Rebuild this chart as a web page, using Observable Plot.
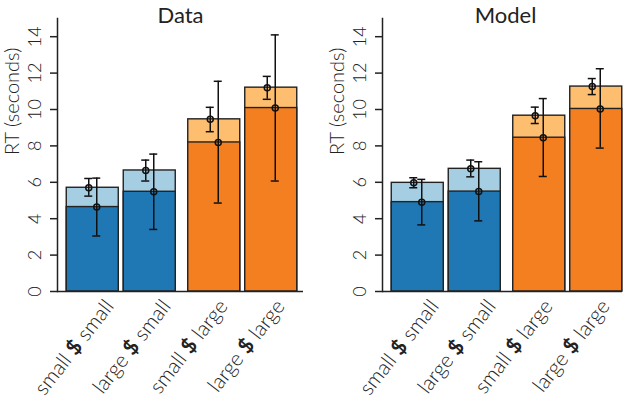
<!DOCTYPE html>
<html>
<head>
<meta charset="utf-8">
<script src="https://cdn.jsdelivr.net/npm/d3@7"></script>
<script src="https://cdn.jsdelivr.net/npm/@observablehq/plot@0.6"></script>
<style>
  body { margin: 0; background: white; }
  #wrap { display: flex; width: 631px; }
</style>
</head>
<body>
<div id="wrap"></div>
<script>
// ---- data ----
const panelTitles = ["Data", "Model"];
const yLabel = "RT (seconds)";
const conditions = ["small $ small", "large $ small", "small $ large", "large $ large"];
const secondOption = ["small", "small", "large", "large"];
const yTicks = [0, 2, 4, 6, 8, 10, 12, 14];

// Data panel
const dataDark    = [4.64, 5.48, 8.19, 10.08];
const dataDarkLo  = [3.05, 3.41, 4.86, 6.07];
const dataDarkHi  = [6.23, 7.55, 11.55, 14.10];
const dataLight   = [5.70, 6.65, 9.46, 11.20];
const dataLightLo = [5.24, 6.07, 8.78, 10.56];
const dataLightHi = [6.21, 7.22, 10.12, 11.82];

// Model panel
const modelDark    = [4.91, 5.49, 8.45, 10.03];
const modelDarkLo  = [3.66, 3.88, 6.32, 7.88];
const modelDarkHi  = [6.16, 7.13, 10.60, 12.24];
const modelLight   = [5.97, 6.74, 9.66, 11.26];
const modelLightLo = [5.70, 6.30, 9.23, 10.82];
const modelLightHi = [6.25, 7.22, 10.13, 11.70];

// ---- styles ----
const darkColor  = {small: "#1f77b4", large: "#f47f20"};
const lightColor = {small: "#a6cee3", large: "#fdbf6f"};
const groupShift = {small: -3.75, large: 3.75};
const FONT = "Lato, 'Open Sans', sans-serif";

function panel(title, dark, darkLo, darkHi, light, lightLo, lightHi, opt) {
  const rows = conditions.map((c, i) => ({
    cond: c, group: secondOption[i],
    dark: dark[i], darkLo: darkLo[i], darkHi: darkHi[i],
    light: light[i], lightLo: lightLo[i], lightHi: lightHi[i]
  }));
  const marks = [];
  for (const g of ["small", "large"]) {
    const r = rows.filter(d => d.group === g);
    const s = groupShift[g];
    const bar = {stroke: "#222", strokeWidth: 1.4, dx: s};
    marks.push(Plot.barY(r, {x: "cond", y: "light", fill: lightColor[g], ...bar}));
    marks.push(Plot.barY(r, {x: "cond", y: "dark", fill: darkColor[g], ...bar}));
    for (const [k, off] of [["light", -4], ["dark", 4]]) {
      const eb = {stroke: "#111", strokeWidth: 1.5, dx: s + off};
      marks.push(Plot.ruleX(r, {x: "cond", y1: k + "Lo", y2: k + "Hi", ...eb}));
      marks.push(Plot.tickY(r, {x: "cond", y: k + "Lo", insetLeft: 22, insetRight: 22, ...eb}));
      marks.push(Plot.tickY(r, {x: "cond", y: k + "Hi", insetLeft: 22, insetRight: 22, ...eb}));
      marks.push(Plot.dot(r, {x: "cond", y: k, r: 3, fill: "none", ...eb}));
    }
  }
  const svg = Plot.plot({
    width: opt.width, height: 408,
    marginLeft: opt.marginLeft, marginRight: opt.marginRight,
    marginTop: 18, marginBottom: 117,
    style: {fontFamily: FONT, fontWeight: 300, background: "white", overflow: "visible", color: "#222"},
    x: {domain: conditions, paddingInner: 0.088, paddingOuter: 0.2, align: 0.57, axis: null},
    y: {domain: [0, 15], axis: null},
    marks: [
      ...marks,
      Plot.ruleY([0], {stroke: "#222", strokeWidth: 1.5, insetRight: opt.insetRight}),
      Plot.frame({anchor: "left", stroke: "#222", strokeWidth: 1.5}),
      Plot.axisY({ticks: yTicks, tickSize: 7, tickRotate: -90, tickPadding: 10, fontSize: 18, label: null, stroke: "#222", strokeWidth: 1.5}),
      Plot.axisX({tickSize: 0, tickRotate: -52, tickPadding: 11, fontSize: 21, label: null, dx: 13}),
      Plot.text([title], {frameAnchor: "top", dy: -3, lineAnchor: "middle", fontSize: 22, fontWeight: 400}),
      Plot.text([yLabel], {frameAnchor: "left", rotate: -90, dx: -45, fontSize: 20})
    ]
  });
  d3.select(svg).selectAll("text").each(function () {
    const t = this.textContent;
    if (this.childElementCount === 0 && t.includes("$")) {
      const parts = t.split("$");
      const sel = d3.select(this);
      sel.text(null);
      sel.append("tspan").text(parts[0]);
      sel.append("tspan").attr("font-weight", 700).text("$");
      sel.append("tspan").text(parts[1]);
    }
  });
  return svg;
}

const wrap = document.getElementById("wrap");
wrap.appendChild(panel(panelTitles[0], dataDark, dataDarkLo, dataDarkHi, dataLight, dataLightLo, dataLightHi,
  {width: 315, marginLeft: 57, marginRight: 12, insetRight: 0}));
wrap.appendChild(panel(panelTitles[1], modelDark, modelDarkLo, modelDarkHi, modelLight, modelLightLo, modelLightHi,
  {width: 316, marginLeft: 67, marginRight: 3, insetRight: 6}));
</script>
</body>
</html>
